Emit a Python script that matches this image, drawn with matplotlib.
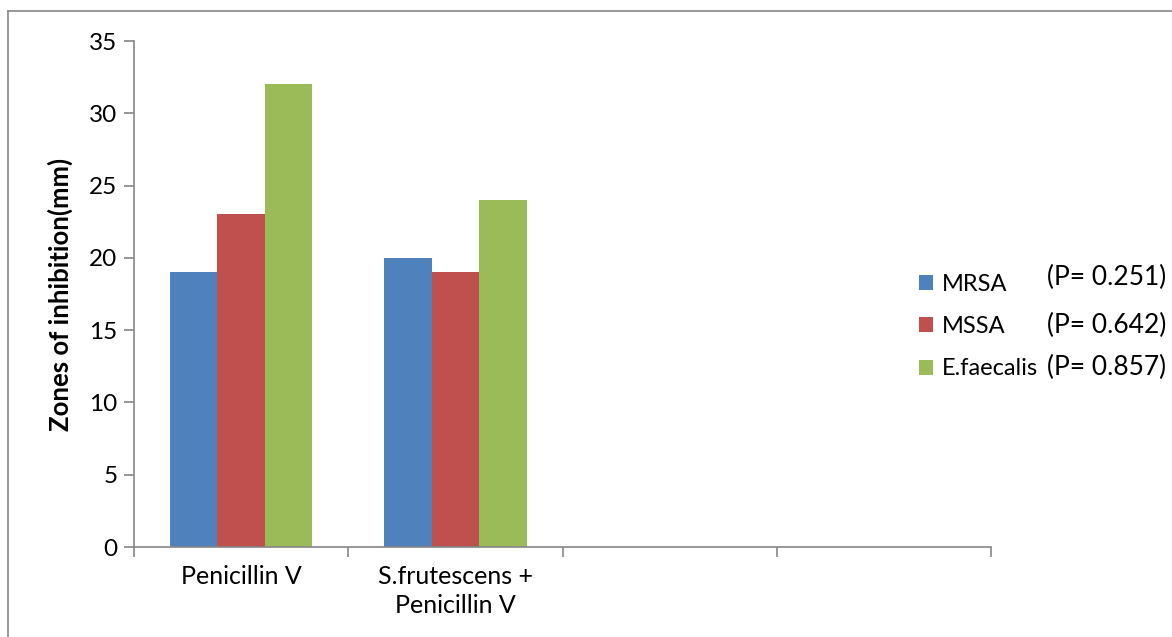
import matplotlib
matplotlib.use('Agg')
import matplotlib.pyplot as plt
from matplotlib.lines import Line2D
import numpy as np

plt.rcParams['font.family'] = ['Lato', 'DejaVu Sans']

# zones of inhibition (mm) per treatment
categories = ['Penicillin V', 'S.frutescens +\nPenicillin V', '', '']
organisms = ['MRSA', 'MSSA', 'E.faecalis']
mrsa = [19, 20]
mssa = [23, 19]
efaecalis = [32, 24]
p_values = ['(P= 0.251)', '(P= 0.642)', '(P= 0.857)']
colors = ['#4f81bd', '#c0504d', '#9bbb59']

W, H = 1172, 637
fig = plt.figure(figsize=(W / 100, H / 100), dpi=100)
ax = fig.add_axes([134 / W, 1 - 547 / H, (991 - 134) / W, (547 - 41) / H])

x = np.arange(len(mrsa))
bw = 0.222
for i, (vals, c, lab) in enumerate(zip([mrsa, mssa, efaecalis], colors, organisms)):
    ax.bar(x + (i - 1) * bw, vals, width=bw, color=c, label=lab, zorder=2)

ax.set_xlim(-0.5, len(categories) - 0.5)
ax.set_ylim(0, 35)
ax.set_yticks(np.arange(0, 36, 5))
ax.set_xticks(np.arange(len(categories)))
ax.set_xticklabels(categories, fontsize=18, linespacing=1.3)
ax.set_xticks(np.arange(len(categories) + 1) - 0.5, minor=True)
ax.tick_params(axis='x', which='major', length=0, pad=13)
ax.tick_params(axis='x', which='minor', length=7, width=1.2, color='#868686', direction='out')
ax.tick_params(axis='y', length=7, width=1.2, color='#868686', labelsize=17.5, pad=5)
for s in ['top', 'right']:
    ax.spines[s].set_visible(False)
for s in ['left', 'bottom']:
    ax.spines[s].set_color('#868686')
    ax.spines[s].set_linewidth(1.2)

ax.set_ylabel('Zones of inhibition(mm)', fontsize=18.5, fontweight='bold')
ax.yaxis.set_label_coords((73 - 134) / 857, 0.5)

leg = fig.legend(loc='upper left', bbox_to_anchor=(919 / W, 1 - 274 / H), frameon=False,
                 fontsize=17, handlelength=0.6, handleheight=0.6, handletextpad=0.35,
                 labelspacing=0.9, borderaxespad=0, borderpad=0)

p_y = [277, 325, 367]
for p, yp in zip(p_values, p_y):
    fig.text(1047 / W, 1 - yp / H, p, fontsize=19, va='center', ha='left')

# outer chart frame
fig.add_artist(Line2D([8 / W, 1], [1 - 11 / H] * 2, color='#868686', lw=1.2))
fig.add_artist(Line2D([8 / W] * 2, [0, 1 - 11 / H], color='#868686', lw=1.2))

fig.savefig('out.png', dpi=100)
